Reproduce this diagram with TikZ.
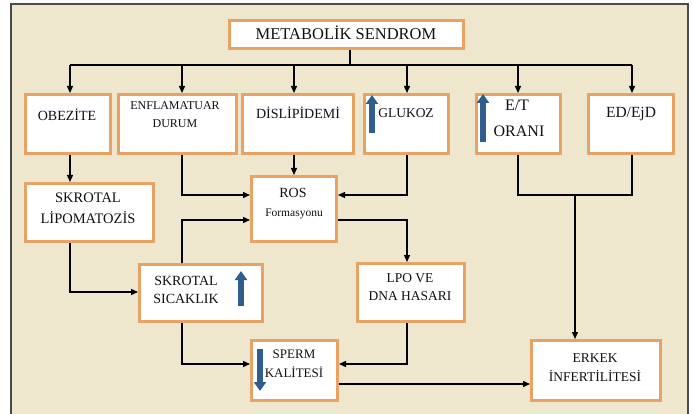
\documentclass[tikz,border=0pt]{standalone}
\usepackage{fontspec}
\setmainfont{Liberation Serif}
\usetikzlibrary{arrows.meta}
\definecolor{paper}{HTML}{EEE7CE}
\definecolor{boxedge}{HTML}{E8A264}
\definecolor{framegray}{HTML}{4A4A4A}
\definecolor{upblue}{HTML}{2F5E8E}
\definecolor{ink}{HTML}{111111}
\begin{document}
\begin{tikzpicture}[x=1pt,y=-1pt,
  box/.style={draw=boxedge, line width=3pt, fill=white, inner sep=0pt},
  txt/.style={anchor=base, inner sep=0pt, text=ink},
  link/.style={draw=black, line width=1.3pt, -{Triangle[length=7pt,width=6pt]}},
  wire/.style={draw=black, line width=1.3pt},
  bluearrow/.style={draw=upblue, line width=6pt, -{Triangle[length=9pt,width=12pt]}}]
  \useasboundingbox (0,0) rectangle (693,414);
  % panel
  \fill[paper] (11,4) rectangle (688,420);
  \draw[framegray, line width=2pt] (11,420) -- (11,4) -- (688,4) -- (688,420);

  % boxes
  \node[box, minimum width=234pt, minimum height=28pt] (meta)  at (346.5,34.5) {};
  \node[box, minimum width=85pt,  minimum height=59pt] (obez)  at (68,124) {};
  \node[box, minimum width=118pt, minimum height=59pt] (enfl)  at (177.5,124) {};
  \node[box, minimum width=111pt, minimum height=59pt] (disl)  at (298,124) {};
  \node[box, minimum width=84pt,  minimum height=59pt] (gluk)  at (406.5,124) {};
  \node[box, minimum width=84pt,  minimum height=59pt] (etor)  at (518.5,124) {};
  \node[box, minimum width=85pt,  minimum height=59pt] (edej)  at (631,124) {};
  \node[box, minimum width=128pt, minimum height=58pt] (lipo)  at (89.5,212.5) {};
  \node[box, minimum width=85pt,  minimum height=65pt] (ros)   at (294,209) {};
  \node[box, minimum width=123pt, minimum height=57pt] (sica)  at (201,293) {};
  \node[box, minimum width=107pt, minimum height=58pt] (lpo)   at (411,292.5) {};
  \node[box, minimum width=86pt,  minimum height=60pt] (sperm) at (294.5,370.5) {};
  \node[box, minimum width=129pt, minimum height=60pt] (erkek) at (596,370.5) {};

  % labels
  \node[txt, font=\fontsize{16.5}{18}\selectfont] (tmeta) at (346,39.5) {METABOLİK SENDROM};
  \node[txt, font=\fontsize{14}{16}\selectfont] (tobez) at (67,121) {OBEZİTE};
  \node[txt, font=\fontsize{12}{14}\selectfont] (tenfa) at (175,110) {ENFLAMATUAR};
  \node[txt, font=\fontsize{12}{14}\selectfont] (tenfb) at (175,128) {DURUM};
  \node[txt, font=\fontsize{14}{16}\selectfont] (tdisl) at (298,119) {DİSLİPİDEMİ};
  \node[txt, font=\fontsize{13.5}{16}\selectfont] (tgluk) at (406,118) {GLUKOZ};
  \node[txt, font=\fontsize{16}{18}\selectfont] (tetoa) at (517,111) {E/T};
  \node[txt, font=\fontsize{16}{18}\selectfont] (tetob) at (519,137) {ORANI};
  \node[txt, font=\fontsize{15.5}{18}\selectfont] (tedej) at (631,118) {ED/EjD};
  \node[txt, font=\fontsize{14.5}{16}\selectfont] (tlipa) at (88,203) {SKROTAL};
  \node[txt, font=\fontsize{14.5}{16}\selectfont] (tlipb) at (88,223) {LİPOMATOZİS};
  \node[txt, font=\fontsize{14}{16}\selectfont] (trosa) at (293,198) {ROS};
  \node[txt, font=\fontsize{11.5}{14}\selectfont] (trosb) at (294,216) {Formasyonu};
  \node[txt, font=\fontsize{14}{16}\selectfont] (tsica) at (186,285) {SKROTAL};
  \node[txt, font=\fontsize{14}{16}\selectfont] (tsicb) at (186,303) {SICAKLIK};
  \node[txt, font=\fontsize{13.5}{16}\selectfont] (tlpoa) at (410,282) {LPO VE};
  \node[txt, font=\fontsize{13.5}{16}\selectfont] (tlpob) at (410,300) {DNA HASARI};
  \node[txt, font=\fontsize{13}{15}\selectfont] (tspea) at (294,358) {SPERM};
  \node[txt, font=\fontsize{13}{15}\selectfont] (tspeb) at (294,377) {KALİTESİ};
  \node[txt, font=\fontsize{13.5}{16}\selectfont] (terka) at (595,362) {ERKEK};
  \node[txt, font=\fontsize{13.5}{16}\selectfont] (terkb) at (595,381) {İNFERTİLİTESİ};

  % blue trend arrows
  \draw[bluearrow] (372,133) -- (372,95);
  \draw[bluearrow] (483,142) -- (483,94);
  \draw[bluearrow] (241,306) -- (241,271);
  \draw[bluearrow] (260,349) -- (260,391);

  % column guides for the connector routes
  \coordinate (colA) at (70,65);
  \coordinate (colB) at (182,65);
  \coordinate (colC) at (294,65);
  \coordinate (colD) at (407,65);
  \coordinate (colE) at (518,65);
  \coordinate (colF) at (632,65);
  \coordinate (colG) at (575,195);
  \coordinate (stem) at (350,65);
  \coordinate (rowA) at (0,195);
  \coordinate (rowB) at (0,220);
  \coordinate (rowC) at (0,292);
  \coordinate (rowD) at (0,364);
  \coordinate (rowE) at (0,384);

  % distribution bus
  \draw[wire] (meta.south -| stem) -- (stem);
  \draw[wire] (colA) -- (colF);
  \draw[link] (colA) -- (colA |- obez.north);
  \draw[link] (colB) -- (colB |- enfl.north);
  \draw[link] (colC) -- (colC |- disl.north);
  \draw[link] (colD) -- (colD |- gluk.north);
  \draw[link] (colE) -- (colE |- etor.north);
  \draw[link] (colF) -- (colF |- edej.north);

  % left chain
  \draw[link] (colA |- obez.south) -- (colA |- lipo.north);
  \draw[link] (colA |- lipo.south) -- (colA |- rowC) -- (sica.west |- rowC);
  \draw[link] (colB |- enfl.south) -- (colB |- rowA) -- (ros.west |- rowA);
  \draw[link] (colC |- disl.south) -- (colC |- ros.north);
  \draw[link] (colD |- gluk.south) -- (colD |- rowA) -- (ros.east |- rowA);
  \draw[link] (colB |- sica.north) -- (colB |- rowB) -- (ros.west |- rowB);
  \draw[link] (ros.east |- rowB) -- (colD |- rowB) -- (colD |- lpo.north);
  \draw[link] (colB |- sica.south) -- (colB |- rowD) -- (sperm.west |- rowD);
  \draw[link] (colD |- lpo.south) -- (colD |- rowD) -- (sperm.east |- rowD);
  \draw[link] (sperm.east |- rowE) -- (erkek.west |- rowE);

  % right chain
  \draw[wire] (colE |- etor.south) -- (colE |- rowA) -- (colF |- rowA) -- (colF |- edej.south);
  \draw[link] (colG) -- (colG |- erkek.north);
\end{tikzpicture}
\end{document}
